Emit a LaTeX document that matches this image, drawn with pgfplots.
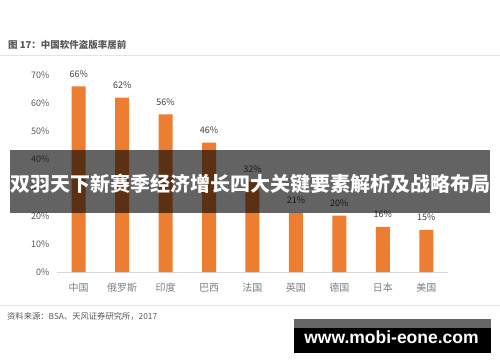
\documentclass[border=0pt]{standalone}
\usepackage{pgfplots}
\pgfplotsset{compat=1.18}
\usepackage{fontspec}
\setmainfont{Noto Sans CJK SC}
\newfontfamily\wmfont{Liberation Sans}
\definecolor{barorange}{HTML}{ED7D31}
\definecolor{titlegray}{HTML}{595959}
\definecolor{labgray}{HTML}{404040}
\definecolor{xgray}{HTML}{7F7F7F}
\definecolor{axisgray}{HTML}{D9D9D9}
\definecolor{peach}{HTML}{FBDCC4}
\begin{document}
\begin{tikzpicture}[x=1pt,y=1pt]
\useasboundingbox (0,0) rectangle (500,362);
\fill[white] (0,0) rectangle (500,362);
\node[anchor=west, font=\fontsize{9.5}{11}\selectfont\bfseries, text=titlegray, inner sep=0] at (8,317) {图 17：中国软件盗版率居前};
\draw[peach, line width=1.2pt] (0,306.5) -- (500,306.5);
\begin{axis}[
  at={(57pt,90pt)}, anchor=south west, scale only axis,
  width=391pt, height=197pt,
  xmin=-0.5, xmax=8.5, ymin=0, ymax=70,
  ybar, bar width=14pt,
  axis x line*=bottom, axis y line*=left,
  y axis line style={draw=none},
  x axis line style={draw=axisgray, line width=0.8pt, -},
  tick style={draw=none},
  /pgf/number format/assume math mode=true,
  xtick={0,...,8},
  xticklabels={中国,俄罗斯,印度,巴西,法国,英国,德国,日本,美国},
  ytick={0,10,20,30,40,50,60,70},
  yticklabels={0\%,10\%,20\%,30\%,40\%,50\%,60\%,70\%},
  xticklabel style={font=\fontsize{10}{11}\selectfont, text=xgray, yshift=-3.5pt},
  yticklabel style={font=\fontsize{9}{10}\selectfont, text=titlegray, xshift=-4pt},
  nodes near coords={\pgfmathprintnumber{\pgfplotspointmeta}\%},
  nodes near coords style={font=\fontsize{9}{10}\selectfont, text=labgray, yshift=5.5pt},
  clip=false,
]
\addplot[fill=barorange, draw=none] coordinates {(0,66) (1,62) (2,56) (3,46) (4,32) (5,21) (6,20) (7,16) (8,15)};
\end{axis}
\draw[peach, line width=1.2pt] (0,56.3) -- (500,56.3);
\node[anchor=west, font=\fontsize{8.3}{10}\selectfont, text=titlegray, inner sep=0] at (7,46) {资料来源：BSA、天风证券研究所，2017};
\fill[black, opacity=0.61] (10,149) rectangle (490,212);
\node[font=\fontsize{20}{22}\selectfont\bfseries, text=white, inner sep=0] at (250,178) {双羽天下新赛季经济增长四大关键要素解析及战略布局};
\fill[black!60] (294,34) rectangle (491,43);
\fill[black] (294,9) rectangle (491,34);
\node[font=\wmfont\fontsize{17.5}{19}\selectfont\bfseries, text=white, inner sep=0] at (391.5,25) {www.mobi-eone.com};
\end{tikzpicture}
\end{document}
